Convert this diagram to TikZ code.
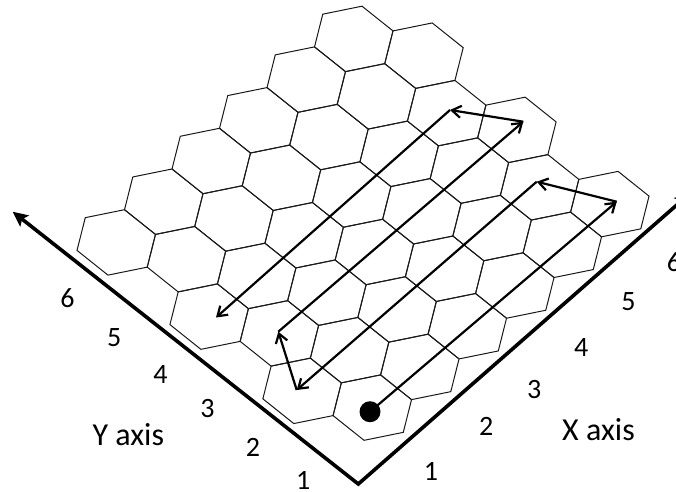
\documentclass[tikz,border=0pt]{standalone}
\usepackage{fontspec}
\setmainfont{Carlito}
\usepackage{tikz}
\usetikzlibrary{arrows.meta,calc}
\definecolor{ink}{RGB}{0,0,0}
\definecolor{edge}{RGB}{25,25,25}
\tikzset{
  cell/.style  = {draw=edge, line width=1pt, line join=miter},
  flow/.style  = {-{Straight Barb[length=9pt, width=12pt]}, draw=ink, line width=2.2pt},
  axis/.style  = {{Stealth[length=15pt, width=14pt, inset=3pt]}-{Stealth[length=15pt, width=14pt, inset=3pt]},
                  draw=ink, line width=3.6pt, line join=miter},
  tick/.style  = {text=ink, inner sep=0pt, font=\fontsize{28}{34}\selectfont},
  title/.style = {text=ink, inner sep=0pt, font=\fontsize{32}{38}\selectfont},
}

\begin{document}
\begin{tikzpicture}[x=1pt, y=-1pt]
\useasboundingbox (0,0) rectangle (676,491);
\clip (0,0) rectangle (676,491);

% hexagonal cells, 6 x 6, in lattice coordinates
\begin{scope}[shift={(372.3,407.6)}, x={(47.5pt,40.7pt)}, y={(-22.71pt,57.46pt)}]
  \foreach \i in {1,...,6}
    \foreach \j in {1,...,6} {
      \pgfmathtruncatemacro{\q}{\i-1-floor(\j/2)}
      \coordinate (h\i\j) at (\q,\j-1);
      \draw[cell] (h\i\j) +(2/3,-1/3) -- +(1/3,1/3) -- +(-1/3,2/3)
        -- +(-2/3,1/3) -- +(-1/3,-1/3) -- +(1/3,-2/3) -- cycle;
    }
\end{scope}

% axes
\coordinate (o) at (358.3,484);
\coordinate (xend) at (690,193.4);
\coordinate (yend) at (12.7,211.7);
\draw[axis] (yend) -- (o) -- (xend);

% scan path over the cells
\coordinate (start) at (370,411.7);
\coordinate (t1) at (616.7,201.7);
\coordinate (t2) at (536.7,181.7);
\coordinate (t3) at (296.7,390);
\coordinate (t4) at (278.3,331.7);
\coordinate (t5) at (523.3,121.7);
\coordinate (t6) at (450,110);
\coordinate (t7) at (216,317.5);

\fill[ink] (start) circle[radius=10.5pt];
\foreach \a/\b in {start/t1, t1/t2, t2/t3, t3/t4, t4/t5, t5/t6, t6/t7}
  \draw[flow] (\a) -- (\b);

% axis numbers
\foreach \n/\px/\py in {1/303.3/480.5, 2/253/447.5, 3/207.5/408.7,
                        4/160.5/374.2, 5/114.2/337.5, 6/67.5/297.8}
  \node[tick] (ylab\n) at (\px,\py) {\n};
\foreach \n/\px/\py in {1/431/471, 2/486.3/426.2, 3/534.2/389.5,
                        4/581.3/347.7, 5/628.5/301.8, 6/674/262}
  \node[tick] (xlab\n) at (\px,\py) {\n};

\node[title] (ytitle) at (128.3,434.5) {Y axis};
\node[title] (xtitle) at (598.5,429.5) {X axis};
\end{tikzpicture}
\end{document}
